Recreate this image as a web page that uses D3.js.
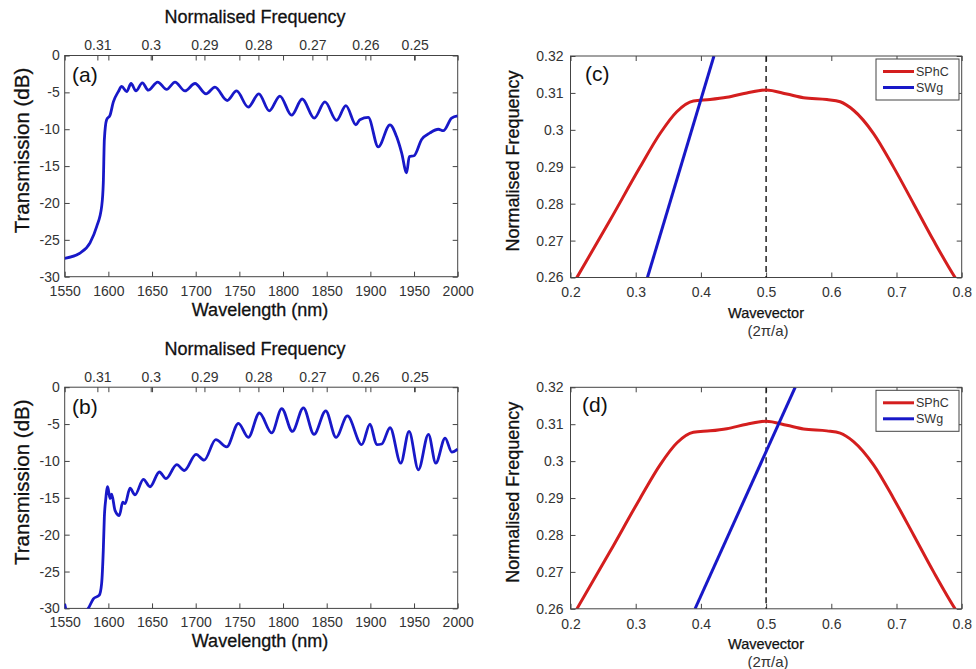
<!DOCTYPE html>
<html>
<head>
<meta charset="utf-8">
<script src="https://cdn.jsdelivr.net/npm/d3@7"></script>
<style>
body { margin: 0; background: #fff; }
svg text { font-family: "Liberation Sans", Arial, sans-serif; }
</style>
</head>
<body>
<svg id="chart" width="976" height="669"></svg>
<script>
// ---- data ----
// (a) transmission spectrum
const wavelengthA = [1550, 1567.5, 1579, 1586.6, 1592.3, 1594.2, 1595.4, 1598, 1601.9, 1605.7, 1611.4, 1615.2, 1621, 1626, 1631.6, 1638.9, 1645.7, 1656.4, 1666.7, 1676.3, 1687.7, 1699.2, 1711.8, 1722, 1736, 1746.8, 1760.1, 1772.3, 1784.2, 1796.4, 1809.8, 1822, 1835.8, 1848, 1861.3, 1872, 1883.5, 1888, 1897.6, 1909, 1922.4, 1930, 1935.8, 1941.5, 1944.6, 1950, 1958.7, 1968.3, 1977.8, 1983.5, 1993, 2000];
const transmissionA = [-27.5, -26.8, -25.4, -23.2, -20.5, -17.3, -11.4, -8.7, -8.1, -6.3, -4.9, -4.2, -4.9, -3.8, -4.8, -3.7, -4.7, -3.6, -4.6, -3.6, -4.8, -3.8, -5.2, -4.3, -6.1, -4.8, -7.0, -5.2, -7.5, -5.5, -8.1, -5.9, -8.5, -6.3, -8.8, -6.8, -9.4, -8.7, -8.4, -12.4, -9.4, -11.0, -13.2, -15.9, -13.7, -13.6, -11.4, -10.5, -10.0, -10.2, -8.5, -8.2];

// (b) transmission spectrum
const wavelengthB = [1550, 1553, 1565, 1577, 1582.8, 1589.6, 1592.3, 1594.2, 1595.4, 1596.9, 1599.2, 1601.9, 1603.8, 1607.6, 1612.6, 1616.4, 1619.1, 1624.8, 1630.5, 1640.1, 1647.7, 1658.4, 1666, 1678.3, 1687, 1700.4, 1709.6, 1723, 1735.5, 1748.9, 1760.3, 1772.9, 1787, 1798.5, 1810.7, 1823.3, 1835.5, 1848.9, 1860.7, 1873.7, 1890.1, 1899.6, 1907.3, 1913, 1922.6, 1934.8, 1944.3, 1955, 1966.5, 1974.9, 1985.6, 1993.3, 2000];
const transmissionB = [-29.4, -30.6, -31, -30.0, -28.7, -28.2, -26.6, -22.1, -17.6, -15.3, -13.5, -15.1, -14.5, -16.7, -17.4, -15.6, -15.8, -13.7, -14.6, -12.5, -13.5, -11.5, -12.4, -10.5, -11.3, -9.1, -9.9, -7.1, -8.1, -4.9, -6.8, -3.5, -6.2, -2.9, -6.0, -2.8, -6.4, -3.2, -6.8, -3.9, -7.8, -5.0, -7.8, -7.7, -5.5, -10.3, -6.0, -11.2, -6.4, -10.3, -6.9, -8.8, -8.4];

// (c)/(d) band diagram
const wavevector = [0.2065, 0.2095, 0.2606, 0.3067, 0.3374, 0.363, 0.3885, 0.4141, 0.4397, 0.4704, 0.5001, 0.5318, 0.5574, 0.5932, 0.6137, 0.6341, 0.6648, 0.6955, 0.7262, 0.7569, 0.7902, 0.7935];
const sphcFreq = [0.2590, 0.2599, 0.2755, 0.2899, 0.2990, 0.3049, 0.3078, 0.3082, 0.3088, 0.3100, 0.3108, 0.3097, 0.3087, 0.3082, 0.3076, 0.3053, 0.2990, 0.2899, 0.2800, 0.2700, 0.2599, 0.2590];
const swgWavevectorC = [0.318, 0.420];
const swgFreqC = [0.26, 0.32];
const swgWavevectorD = [0.391, 0.5446];
const swgFreqD = [0.26, 0.32];

// tick labels
const wavelengthTicks = [1550, 1600, 1650, 1700, 1750, 1800, 1850, 1900, 1950, 2000];
const transTicks = [0, -5, -10, -15, -20, -25, -30];
const normFreqTicks = [0.31, 0.3, 0.29, 0.28, 0.27, 0.26, 0.25];
const normFreqTickWavelength = [1587.4, 1648.5, 1710, 1771.8, 1833.6, 1894.3, 1950.8];
const wavevectorTicks = [0.2, 0.3, 0.4, 0.5, 0.6, 0.7, 0.8];
const bandFreqTicks = [0.26, 0.27, 0.28, 0.29, 0.3, 0.31, 0.32];
const legendNames = ["SPhC", "SWg"];

const blue = "#1818c8";
const red = "#d41e1e";
const axisCol = "#444";
const textCol = "#333";

const svg = d3.select("#chart");

function styleAxis(sel, showText) {
    sel.select(".domain").remove();
    sel.selectAll(".tick line").attr("stroke", axisCol);
    sel.selectAll(".tick text")
        .attr("fill", textCol)
        .style("font-size", "14px")
        .style("display", showText ? null : "none");
}

function frame(g, x0, y0, x1, y1) {
    g.append("rect")
        .attr("x", x0).attr("y", y0)
        .attr("width", x1 - x0).attr("height", y1 - y0)
        .attr("fill", "none").attr("stroke", axisCol).attr("stroke-width", 1);
}

function clip(g, id, x0, y0, x1, y1) {
    g.append("clipPath").attr("id", id).append("rect")
        .attr("x", x0).attr("y", y0).attr("width", x1 - x0).attr("height", y1 - y0);
}

// ---- transmission panels ----
function transmissionPanel(top, lambda, trans, tag) {
    const x0 = 64.7, x1 = 457.7, y0 = top, y1 = top + 221.2;
    const x = d3.scaleLinear().domain([1550, 2000]).range([x0, x1]);
    const y = d3.scaleLinear().domain([-30, 0]).range([y1, y0]);
    const g = svg.append("g");
    const id = "clip" + tag;
    clip(g, id, x0, y0, x1, y1);

    g.append("g").attr("transform", `translate(0,${y1})`)
        .call(d3.axisBottom(x).tickValues(wavelengthTicks).tickFormat(d => String(d)).tickSizeInner(-5).tickSizeOuter(0).tickPadding(9))
        .call(s => styleAxis(s, true));
    g.append("g").attr("transform", `translate(0,${y0})`)
        .call(d3.axisTop(x).tickValues(wavelengthTicks).tickSizeInner(-5).tickSizeOuter(0))
        .call(s => styleAxis(s, false));
    g.append("g").attr("transform", `translate(${x0},0)`)
        .call(d3.axisLeft(y).tickValues(transTicks).tickFormat(d => String(d)).tickSizeInner(-5).tickSizeOuter(0).tickPadding(5))
        .call(s => styleAxis(s, true));
    g.append("g").attr("transform", `translate(${x1},0)`)
        .call(d3.axisRight(y).tickValues(transTicks).tickSizeInner(-5).tickSizeOuter(0))
        .call(s => styleAxis(s, false));

    // secondary normalised-frequency axis on top
    const fx = d3.scaleLinear().domain(normFreqTicks).range(normFreqTickWavelength.map(x));
    g.append("g").attr("transform", `translate(0,${y0})`)
        .call(d3.axisTop(fx).tickValues(normFreqTicks).tickFormat(d => String(d)).tickSizeInner(-5).tickSizeOuter(0).tickPadding(5.5))
        .call(s => styleAxis(s, true));

    frame(g, x0, y0, x1, y1);

    const pts = lambda.map((l, i) => [l, trans[i]]);
    g.append("path")
        .datum(pts)
        .attr("clip-path", `url(#${id})`)
        .attr("fill", "none")
        .attr("stroke", blue)
        .attr("stroke-width", 2.8)
        .attr("stroke-linejoin", "round")
        .attr("d", d3.line().x(d => x(d[0])).y(d => y(d[1])).curve(d3.curveMonotoneX));

    g.append("text").attr("x", 72).attr("y", y0 + 26.5)
        .style("font-size", "21px").attr("fill", "#111").text(`(${tag})`);

    g.append("text").attr("x", 255).attr("y", y0 - 32.5)
        .attr("text-anchor", "middle").style("font-size", "18px")
        .attr("fill", "#111").attr("stroke", "#111").attr("stroke-width", 0.3)
        .text("Normalised Frequency");
    g.append("text").attr("x", 260).attr("y", y1 + 39)
        .attr("text-anchor", "middle").style("font-size", "18px")
        .attr("fill", "#111").attr("stroke", "#111").attr("stroke-width", 0.3)
        .text("Wavelength (nm)");
    g.append("text")
        .attr("transform", `translate(29,${y0 + 95}) rotate(-90)`)
        .attr("text-anchor", "middle").style("font-size", "20.5px")
        .attr("fill", "#111").attr("stroke", "#111").attr("stroke-width", 0.3)
        .text("Transmission (dB)");
}

// ---- band diagram panels ----
function bandPanel(top, swgK, swgF, tag) {
    const x0 = 570.5, x1 = 961.7, y0 = top, y1 = top + 221.5;
    const x = d3.scaleLinear().domain([0.2, 0.8]).range([x0, x1]);
    const y = d3.scaleLinear().domain([0.26, 0.32]).range([y1, y0]);
    const g = svg.append("g");
    const id = "clip" + tag;
    clip(g, id, x0, y0, x1, y1);

    g.append("g").attr("transform", `translate(0,${y1})`)
        .call(d3.axisBottom(x).tickValues(wavevectorTicks).tickFormat(d => String(d)).tickSizeInner(-5).tickSizeOuter(0).tickPadding(10))
        .call(s => styleAxis(s, true));
    g.append("g").attr("transform", `translate(0,${y0})`)
        .call(d3.axisTop(x).tickValues(wavevectorTicks).tickSizeInner(-5).tickSizeOuter(0))
        .call(s => styleAxis(s, false));
    g.append("g").attr("transform", `translate(${x0},0)`)
        .call(d3.axisLeft(y).tickValues(bandFreqTicks).tickFormat(d => String(d)).tickSizeInner(-5).tickSizeOuter(0).tickPadding(7))
        .call(s => styleAxis(s, true));
    g.append("g").attr("transform", `translate(${x1},0)`)
        .call(d3.axisRight(y).tickValues(bandFreqTicks).tickSizeInner(-5).tickSizeOuter(0))
        .call(s => styleAxis(s, false));

    // light line at k = 0.5
    g.append("line")
        .attr("x1", x(0.5)).attr("x2", x(0.5)).attr("y1", y0).attr("y2", y1)
        .attr("stroke", "#111").attr("stroke-width", 1.4).attr("stroke-dasharray", "6,4");

    g.append("path")
        .datum(wavevector.map((k, i) => [k, sphcFreq[i]]))
        .attr("clip-path", `url(#${id})`)
        .attr("fill", "none").attr("stroke", red).attr("stroke-width", 3)
        .attr("d", d3.line().x(d => x(d[0])).y(d => y(d[1])).curve(d3.curveMonotoneX));

    g.append("path")
        .datum(swgK.map((k, i) => [k, swgF[i]]))
        .attr("clip-path", `url(#${id})`)
        .attr("fill", "none").attr("stroke", blue).attr("stroke-width", 3)
        .attr("d", d3.line().x(d => x(d[0])).y(d => y(d[1])));

    frame(g, x0, y0, x1, y1);

    // legend
    const lg = g.append("g").attr("transform", `translate(876,${y0 + 3})`);
    lg.append("rect").attr("width", 83).attr("height", 41)
        .attr("fill", "#fff").attr("stroke", axisCol).attr("stroke-width", 1);
    [red, blue].forEach((c, i) => {
        lg.append("line").attr("x1", 7).attr("x2", 38)
            .attr("y1", 12.5 + i * 16).attr("y2", 12.5 + i * 16)
            .attr("stroke", c).attr("stroke-width", 3);
        lg.append("text").attr("x", 40).attr("y", 17 + i * 16)
            .style("font-size", "12.5px").attr("fill", textCol).text(legendNames[i]);
    });

    g.append("text").attr("x", tag === "c" ? 585 : 582).attr("y", y0 + 25)
        .style("font-size", "21px").attr("fill", "#111").text(`(${tag})`);

    g.append("text")
        .attr("transform", `translate(519,${y0 + 105}) rotate(-90)`)
        .attr("text-anchor", "middle").style("font-size", "18px")
        .attr("fill", "#111").attr("stroke", "#111").attr("stroke-width", 0.3)
        .text("Normalised Frequency");
    g.append("text").attr("x", 766).attr("y", y1 + 40)
        .attr("text-anchor", "middle").style("font-size", "14.5px")
        .attr("fill", "#111").attr("stroke", "#111").attr("stroke-width", 0.25)
        .text("Wavevector");
    g.append("text").attr("x", 768).attr("y", y1 + 58)
        .attr("text-anchor", "middle").style("font-size", "15px")
        .attr("fill", textCol)
        .text("(2\u03c0/a)");
}

transmissionPanel(55.5, wavelengthA, transmissionA, "a");
transmissionPanel(387.2, wavelengthB, transmissionB, "b");
bandPanel(56, swgWavevectorC, swgFreqC, "c");
bandPanel(387.3, swgWavevectorD, swgFreqD, "d");
</script>
</body>
</html>
